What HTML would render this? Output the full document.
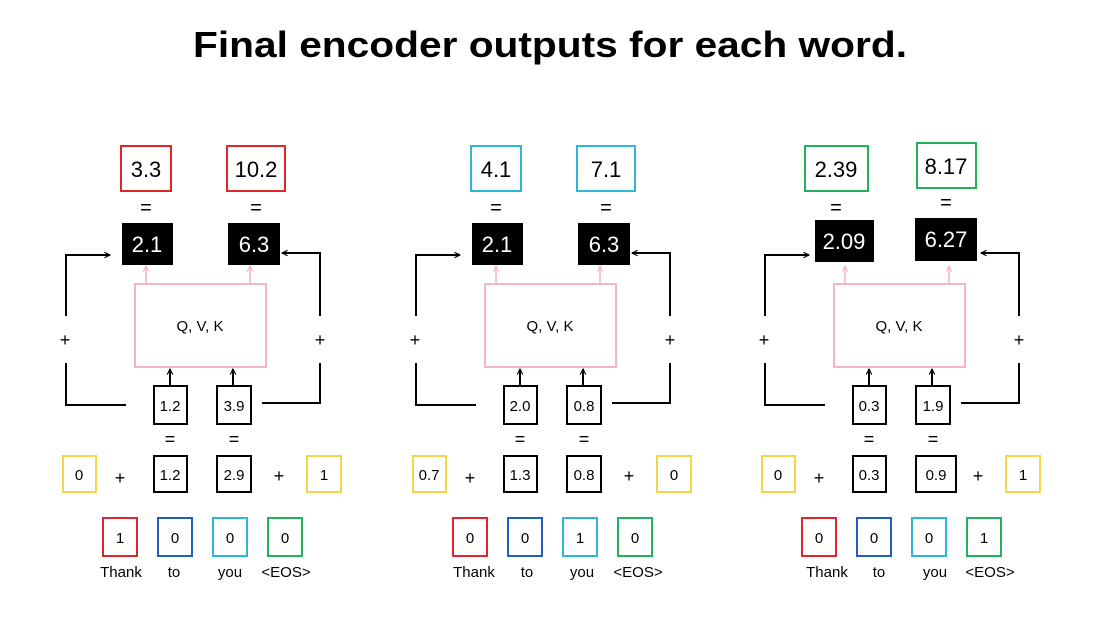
<!DOCTYPE html>
<html><head><meta charset="utf-8"><style>
html,body{margin:0;padding:0;background:#fff;}
svg{display:block;font-family:"Liberation Sans",sans-serif;}
</style></head><body>
<svg width="1100" height="619" viewBox="0 0 1100 619" xmlns="http://www.w3.org/2000/svg">
<defs>
<marker id="ab" viewBox="0 0 10 10" refX="9" refY="5" markerWidth="7" markerHeight="7" orient="auto-start-reverse" markerUnits="userSpaceOnUse"><path d="M1,1 L9,5 L1,9" fill="none" stroke="#000" stroke-width="1.6"/></marker>
<marker id="ap" viewBox="0 0 10 10" refX="9" refY="5" markerWidth="7" markerHeight="7" orient="auto" markerUnits="userSpaceOnUse"><path d="M1,1 L9,5 L1,9" fill="none" stroke="#f4b6c6" stroke-width="1.6"/></marker>
<g id="struct">
  <!-- left loop -->
  <path d="M126,405 H66 V363" fill="none" stroke="#000" stroke-width="2"/>
  <path d="M66,316 V255 H110" fill="none" stroke="#000" stroke-width="2" marker-end="url(#ab)"/>
  <!-- right loop -->
  <path d="M262,403 H320 V363" fill="none" stroke="#000" stroke-width="2"/>
  <path d="M320,316 V253 H282" fill="none" stroke="#000" stroke-width="2" marker-end="url(#ab)"/>
  <!-- pink box -->
  <rect x="135" y="284" width="131" height="83" fill="none" stroke="#f4b6c6" stroke-width="2"/>
  <line x1="146" y1="284" x2="146" y2="266" stroke="#f4b6c6" stroke-width="1.6" marker-end="url(#ap)"/>
  <line x1="250" y1="284" x2="250" y2="266" stroke="#f4b6c6" stroke-width="1.6" marker-end="url(#ap)"/>
  <!-- small box arrows -->
  <line x1="170" y1="385" x2="170" y2="369" stroke="#000" stroke-width="2" marker-end="url(#ab)"/>
  <line x1="233" y1="385" x2="233" y2="369" stroke="#000" stroke-width="2" marker-end="url(#ab)"/>
</g>
</defs>
<text x="550" y="57" text-anchor="middle" font-size="36" font-weight="bold" textLength="714" lengthAdjust="spacingAndGlyphs">Final encoder outputs for each word.</text>

<g font-size="15" text-anchor="middle">
<!-- ============ PANEL 1 ============ -->
<use href="#struct"/>
<rect x="121" y="146" width="50" height="45" fill="none" stroke="#e0262b" stroke-width="2"/>
<text x="146" y="177" font-size="22">3.3</text>
<rect x="227" y="146" width="58" height="45" fill="none" stroke="#e0262b" stroke-width="2"/>
<text x="256" y="177" font-size="22">10.2</text>
<text x="146" y="214" font-size="20">=</text><text x="256" y="214" font-size="20">=</text>
<rect x="122" y="223" width="51" height="42" fill="#000"/><text x="147" y="252" font-size="22" fill="#fff">2.1</text>
<rect x="228" y="223" width="52" height="42" fill="#000"/><text x="254" y="252" font-size="22" fill="#fff">6.3</text>
<text x="200" y="331">Q, V, K</text>
<text x="65" y="346" font-size="18">+</text><text x="320" y="346" font-size="18">+</text>
<rect x="154" y="386" width="33" height="38" fill="none" stroke="#000" stroke-width="2"/><text x="170" y="411">1.2</text>
<rect x="217" y="386" width="34" height="38" fill="none" stroke="#000" stroke-width="2"/><text x="234" y="411">3.9</text>
<text x="170" y="445" font-size="18">=</text><text x="234" y="445" font-size="18">=</text>
<rect x="63" y="456" width="33" height="36" fill="none" stroke="#f7d54a" stroke-width="2"/><text x="79" y="480">0</text>
<text x="120" y="484" font-size="18">+</text>
<rect x="154" y="456" width="33" height="36" fill="none" stroke="#000" stroke-width="2"/><text x="170" y="480">1.2</text>
<rect x="217" y="456" width="34" height="36" fill="none" stroke="#000" stroke-width="2"/><text x="234" y="480">2.9</text>
<text x="279" y="482" font-size="18">+</text>
<rect x="307" y="456" width="34" height="36" fill="none" stroke="#f7d54a" stroke-width="2"/><text x="324" y="480">1</text>
<rect x="103" y="518" width="34" height="38" fill="none" stroke="#e0262b" stroke-width="2"/><text x="120" y="543">1</text>
<rect x="158" y="518" width="34" height="38" fill="none" stroke="#1f5fc4" stroke-width="2"/><text x="175" y="543">0</text>
<rect x="213" y="518" width="34" height="38" fill="none" stroke="#2bb7d5" stroke-width="2"/><text x="230" y="543">0</text>
<rect x="268" y="518" width="34" height="38" fill="none" stroke="#1fb45a" stroke-width="2"/><text x="285" y="543">0</text>
<text x="121" y="577">Thank</text><text x="174" y="577">to</text><text x="230" y="577">you</text><text x="286" y="577">&lt;EOS&gt;</text>

<!-- ============ PANEL 2 ============ -->
<g transform="translate(350,0)">
<use href="#struct"/>
<rect x="121" y="146" width="50" height="45" fill="none" stroke="#2bb7d5" stroke-width="2"/>
<text x="146" y="177" font-size="22">4.1</text>
<rect x="227" y="146" width="58" height="45" fill="none" stroke="#2bb7d5" stroke-width="2"/>
<text x="256" y="177" font-size="22">7.1</text>
<text x="146" y="214" font-size="20">=</text><text x="256" y="214" font-size="20">=</text>
<rect x="122" y="223" width="51" height="42" fill="#000"/><text x="147" y="252" font-size="22" fill="#fff">2.1</text>
<rect x="228" y="223" width="52" height="42" fill="#000"/><text x="254" y="252" font-size="22" fill="#fff">6.3</text>
<text x="200" y="331">Q, V, K</text>
<text x="65" y="346" font-size="18">+</text><text x="320" y="346" font-size="18">+</text>
<rect x="154" y="386" width="33" height="38" fill="none" stroke="#000" stroke-width="2"/><text x="170" y="411">2.0</text>
<rect x="217" y="386" width="34" height="38" fill="none" stroke="#000" stroke-width="2"/><text x="234" y="411">0.8</text>
<text x="170" y="445" font-size="18">=</text><text x="234" y="445" font-size="18">=</text>
<rect x="63" y="456" width="33" height="36" fill="none" stroke="#f7d54a" stroke-width="2"/><text x="79" y="480">0.7</text>
<text x="120" y="484" font-size="18">+</text>
<rect x="154" y="456" width="33" height="36" fill="none" stroke="#000" stroke-width="2"/><text x="170" y="480">1.3</text>
<rect x="217" y="456" width="34" height="36" fill="none" stroke="#000" stroke-width="2"/><text x="234" y="480">0.8</text>
<text x="279" y="482" font-size="18">+</text>
<rect x="307" y="456" width="34" height="36" fill="none" stroke="#f7d54a" stroke-width="2"/><text x="324" y="480">0</text>
<rect x="103" y="518" width="34" height="38" fill="none" stroke="#e0262b" stroke-width="2"/><text x="120" y="543">0</text>
<rect x="158" y="518" width="34" height="38" fill="none" stroke="#1f5fc4" stroke-width="2"/><text x="175" y="543">0</text>
<rect x="213" y="518" width="34" height="38" fill="none" stroke="#2bb7d5" stroke-width="2"/><text x="230" y="543">1</text>
<rect x="268" y="518" width="34" height="38" fill="none" stroke="#1fb45a" stroke-width="2"/><text x="285" y="543">0</text>
<text x="124" y="577">Thank</text><text x="177" y="577">to</text><text x="232" y="577">you</text><text x="288" y="577">&lt;EOS&gt;</text>
</g>

<!-- ============ PANEL 3 ============ -->
<g transform="translate(699,0)">
<use href="#struct"/>
<rect x="106" y="146" width="63" height="45" fill="none" stroke="#1fb45a" stroke-width="2"/>
<text x="137" y="177" font-size="22">2.39</text>
<rect x="218" y="143" width="59" height="45" fill="none" stroke="#1fb45a" stroke-width="2"/>
<text x="247" y="174" font-size="22">8.17</text>
<text x="137" y="214" font-size="20">=</text><text x="247" y="209" font-size="20">=</text>
<rect x="116" y="220" width="59" height="42" fill="#000"/><text x="145" y="249" font-size="22" fill="#fff">2.09</text>
<rect x="216" y="218" width="62" height="43" fill="#000"/><text x="247" y="247" font-size="22" fill="#fff">6.27</text>
<text x="200" y="331">Q, V, K</text>
<text x="65" y="346" font-size="18">+</text><text x="320" y="346" font-size="18">+</text>
<rect x="154" y="386" width="33" height="38" fill="none" stroke="#000" stroke-width="2"/><text x="170" y="411">0.3</text>
<rect x="217" y="386" width="34" height="38" fill="none" stroke="#000" stroke-width="2"/><text x="234" y="411">1.9</text>
<text x="170" y="445" font-size="18">=</text><text x="234" y="445" font-size="18">=</text>
<rect x="63" y="456" width="33" height="36" fill="none" stroke="#f7d54a" stroke-width="2"/><text x="79" y="480">0</text>
<text x="120" y="484" font-size="18">+</text>
<rect x="154" y="456" width="33" height="36" fill="none" stroke="#000" stroke-width="2"/><text x="170" y="480">0.3</text>
<rect x="217" y="456" width="40" height="36" fill="none" stroke="#000" stroke-width="2"/><text x="237" y="480">0.9</text>
<text x="279" y="482" font-size="18">+</text>
<rect x="307" y="456" width="34" height="36" fill="none" stroke="#f7d54a" stroke-width="2"/><text x="324" y="480">1</text>
<rect x="103" y="518" width="34" height="38" fill="none" stroke="#e0262b" stroke-width="2"/><text x="120" y="543">0</text>
<rect x="158" y="518" width="34" height="38" fill="none" stroke="#1f5fc4" stroke-width="2"/><text x="175" y="543">0</text>
<rect x="213" y="518" width="34" height="38" fill="none" stroke="#2bb7d5" stroke-width="2"/><text x="230" y="543">0</text>
<rect x="268" y="518" width="34" height="38" fill="none" stroke="#1fb45a" stroke-width="2"/><text x="285" y="543">1</text>
<text x="128" y="577">Thank</text><text x="180" y="577">to</text><text x="236" y="577">you</text><text x="291" y="577">&lt;EOS&gt;</text>
</g>
</g>
</svg>
</body></html>
